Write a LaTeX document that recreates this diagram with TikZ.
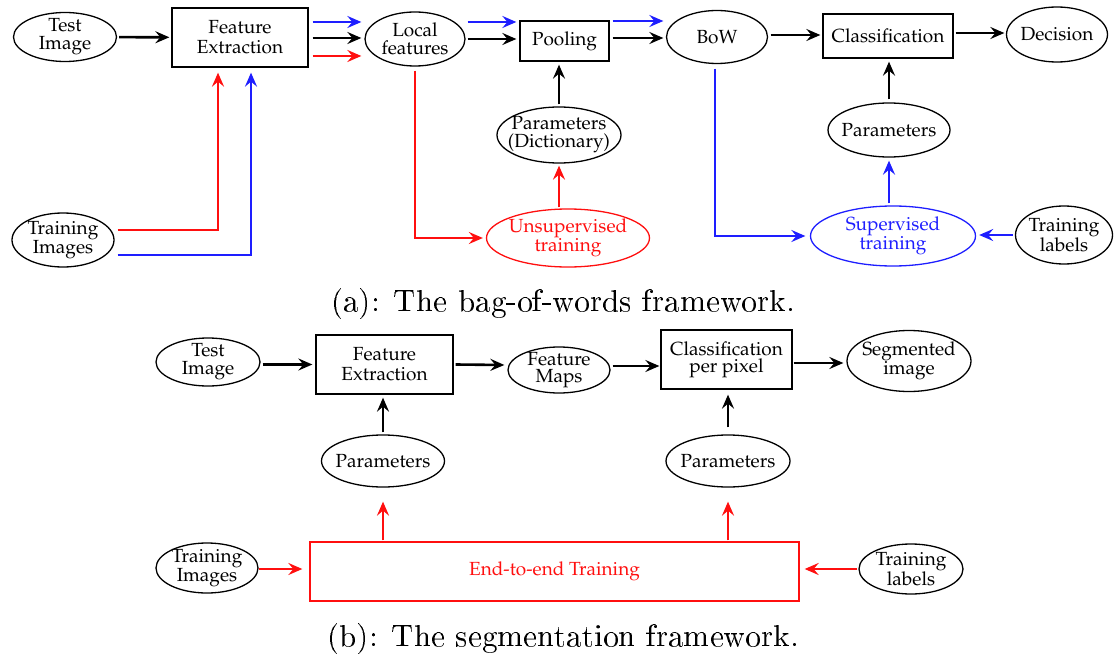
\documentclass[tikz,border=0pt]{standalone}
\usepackage[T1]{fontenc}
\usetikzlibrary{shapes.geometric,arrows.meta,calc}
\definecolor{myblue}{RGB}{30,30,255}
\definecolor{myred}{RGB}{255,15,15}
\newcommand\palell{\fontfamily{ppl}\selectfont\fontsize{19}{18}\selectfont}
\newcommand\palbox{\fontfamily{ppl}\selectfont\fontsize{19}{20}\selectfont}
\newcommand\paltight{\fontfamily{ppl}\selectfont\fontsize{19}{17}\selectfont}
\begin{document}
\begin{tikzpicture}[x=1pt,y=-1pt,
  ell/.style={ellipse,draw,line width=1.3pt,inner sep=0pt},
  box/.style={rectangle,draw,line width=1.3pt,inner sep=0pt,align=center,font=\palbox},
  txt/.style={inner sep=0pt,align=center,font=\palell},
  conn/.style={line width=2.6pt,-{Stealth[length=14pt,width=12pt,inset=5pt]}},
  blu/.style={draw=myblue},
  rd/.style={draw=myred},
  captxt/.style={inner sep=0pt,scale=3.13}]
\useasboundingbox (0,0) rectangle (1118,655);
% ---------- (a) ----------
\node[ell,minimum width=103pt,minimum height=49pt] (ti) at (65,37) {};
\node[txt] (tit) at (ti) {Test\\Image};
\node[box,minimum width=136pt,minimum height=59pt] (fe) at (240,37.5) {Feature\\Extraction};
\node[ell,minimum width=100pt,minimum height=54pt] (lf) at (415,39) {};
\node[txt] (lft) at (lf) {Local\\features};
\node[box,minimum width=89pt,minimum height=40pt] (pool) at (564.5,41) {Pooling};
\node[ell,minimum width=101pt,minimum height=53pt] (bow) at (717,37) {};
\node[txt] (bowt) at (bow) {BoW};
\node[box,minimum width=130pt,minimum height=44pt] (cls) at (888,36) {Classification};
\node[ell,minimum width=101pt,minimum height=55pt] (dec) at (1057,34.5) {};
\node[txt] (dect) at (dec) {Decision};
\node[ell,minimum width=124pt,minimum height=56pt] (dict) at (559,135) {};
\node[txt] (dictt) at (dict) {Parameters\\(Dictionary)};
\node[ell,draw=myred,minimum width=163pt,minimum height=58pt] (unsup) at (568,238) {};
\node[txt,text=myred] (unsupt) at (unsup) {Unsupervised\\training};
\node[ell,minimum width=102pt,minimum height=54pt] (trimg) at (63,240) {};
\node[txt] (trimgt) at (trimg) {Training\\Images};
\node[ell,minimum width=122pt,minimum height=54pt] (par) at (889,130) {};
\node[txt] (part) at (par) {Parameters};
\node[ell,draw=myblue,minimum width=165pt,minimum height=60pt] (sup) at (893,236) {};
\node[txt,text=myblue] (supt) at (sup) {Supervised\\training};
\node[ell,minimum width=97pt,minimum height=58pt] (trlab) at (1064,235) {};
\node[txt] (trlabt) at (trlab) {Training\\labels};

\draw[conn,shorten <=2pt,shorten >=2pt] (ti) -- (fe);
\draw[conn,blu] ([shift={(4,-15.5)}]fe.east) -- ([shift={(-3,-17)}]lf.west);
\draw[conn] ([shift={(4,0.5)}]fe.east) -- ([shift={(-3,-1)}]lf.west);
\draw[conn,rd] ([shift={(4,18.5)}]fe.east) -- ([shift={(-3,17)}]lf.west);
\draw[conn,blu] ([shift={(2,-17)}]lf.east) -- ([shift={(-3,-19)}]pool.west);
\draw[conn] ([shift={(2,0)}]lf.east) -- ([shift={(-3,-2)}]pool.west);
\draw[conn,blu] ([shift={(3,-20)}]pool.east) -- ([shift={(-2.5,-16)}]bow.west);
\draw[conn] ([shift={(3,-3)}]pool.east) -- ([shift={(-2.5,1)}]bow.west);
\draw[conn] ([shift={(2.5,-2)}]bow.east) -- ([shift={(-2,-1)}]cls.west);
\draw[conn] ([shift={(2,-3)}]cls.east) -- ([shift={(-1.5,-1.5)}]dec.west);
\draw[conn,shorten <=2pt,shorten >=3pt] (dict.north) -- (dict.north |- pool.south);
\draw[conn,rd,shorten <=1pt,shorten >=2pt] (dict.south |- unsup.north) -- (dict.south);
\draw[conn,rd,shorten <=4pt,shorten >=3pt] (lf.south) |- (unsup.west);
\draw[conn,rd,shorten <=3pt,shorten >=5pt] ([shift={(0,-10)}]trimg.east) -| ([xshift=-22]fe.south);
\draw[conn,blu,shorten <=3pt,shorten >=5pt] ([shift={(0,15)}]trimg.east) -| ([xshift=11]fe.south);
\draw[conn,blu,shorten <=4.5pt,shorten >=4.5pt] ([xshift=-2]bow.south) |- (sup.west);
\draw[conn,blu,shorten <=2pt,shorten >=3pt] (trlab.west) -- (trlab.west -| sup.east);
\draw[conn,blu,shorten <=2pt,shorten >=3pt] (par.south |- sup.north) -- (par.south);
\draw[conn,shorten <=3pt,shorten >=3pt] (par.north) -- (par.north |- cls.south);

\node[captxt] (capa) at (563,304) {\normalfont\fontsize{10}{12}\selectfont (a): The bag-of-words framework.};

% ---------- (b) ----------
\node[ell,minimum width=104pt,minimum height=48pt] (ti2) at (208,362) {};
\node[txt] (ti2t) at (ti2) {Test\\Image};
\node[box,minimum width=137pt,minimum height=59pt] (fe2) at (384.5,364.5) {Feature\\Extraction};
\node[ell,minimum width=102pt,minimum height=46pt] (fm) at (559,370) {};
\node[txt,font=\paltight] (fmt) at (fm) {Feature\\Maps};
\node[box,minimum width=131pt,minimum height=59pt,font=\paltight] (cpp) at (726.5,359.5) {Classification\\per pixel};
\node[ell,minimum width=124pt,minimum height=61pt] (seg) at (909,361) {};
\node[txt,font=\paltight] (segt) at (seg) {Segmented\\image};
\node[ell,minimum width=123pt,minimum height=52pt] (p2a) at (383,461) {};
\node[txt] (p2at) at (p2a) {Parameters};
\node[ell,minimum width=124pt,minimum height=52pt] (p2b) at (728,461) {};
\node[txt] (p2bt) at (p2b) {Parameters};
\node[box,draw=myred,text=myred,minimum width=489pt,minimum height=59pt] (e2e) at (554.5,571.5) {End-to-end Training};
\node[ell,minimum width=102pt,minimum height=50pt] (tri2) at (207,568) {};
\node[txt] (tri2t) at (tri2) {Training\\Images};
\node[ell,minimum width=104pt,minimum height=50pt] (trl2) at (911,569) {};
\node[txt] (trl2t) at (trl2) {Training\\labels};

\draw[conn] ([shift={(2,2.5)}]ti2.east) -- ([shift={(-3,0)}]fe2.west);
\draw[conn] ([shift={(2,0)}]fe2.east) -- ([shift={(-3,-5)}]fm.west);
\draw[conn] ([shift={(2,-4)}]fm.east) -- ([shift={(-1,6.5)}]cpp.west);
\draw[conn] ([shift={(1,3.5)}]cpp.east) -- ([shift={(-3,2)}]seg.west);
\draw[conn,shorten <=2pt,shorten >=3pt] (p2a.north) -- (p2a.north |- fe2.south);
\draw[conn,shorten <=7pt,shorten >=5pt] (p2b.north) -- (p2b.north |- cpp.south);
\draw[conn,rd,shorten <=1pt,shorten >=14pt] (p2a.south |- e2e.north) -- (p2a.south);
\draw[conn,rd,shorten <=1pt,shorten >=14pt] (p2b.south |- e2e.north) -- (p2b.south);
\draw[conn,rd] ([shift={(0,1)}]tri2.east) -- ([shift={(-7,-2.5)}]e2e.west);
\draw[conn,rd] ([xshift=-1]trl2.west) -- ([shift={(5,-2.5)}]e2e.east);

\node[captxt] (capb) at (563,639) {\normalfont\fontsize{10}{12}\selectfont (b): The segmentation framework.};
\end{tikzpicture}
\end{document}
